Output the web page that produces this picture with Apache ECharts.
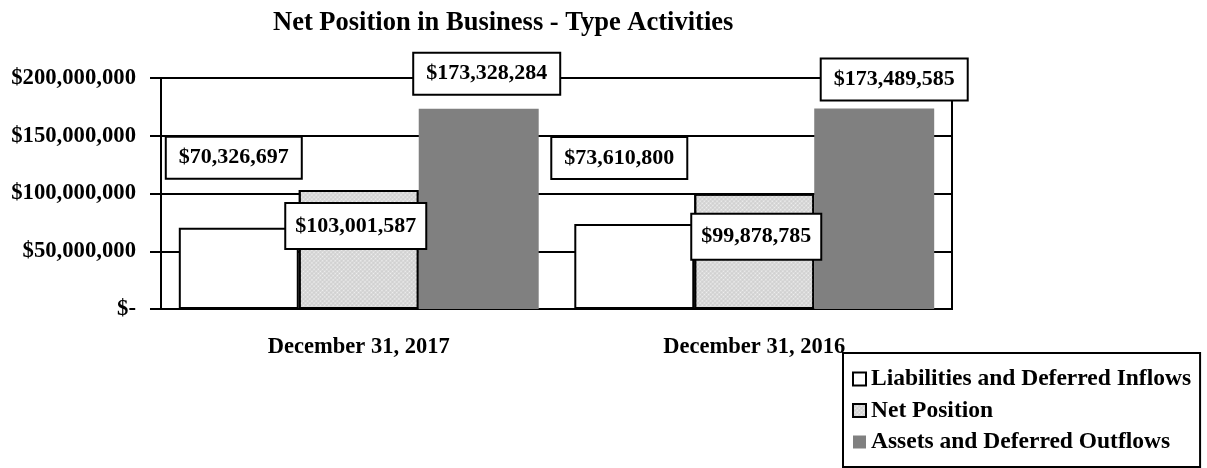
<!DOCTYPE html>
<html>
<head>
<meta charset="utf-8">
<script src="https://cdn.jsdelivr.net/npm/echarts@6/dist/echarts.min.js"></script>
<style>
  html, body { margin: 0; padding: 0; background: #fff; }
  #chart { width: 1207px; height: 468px; }
</style>
</head>
<body>
<div id="chart"></div>
<script>
const categories = ['December 31, 2017', 'December 31, 2016'];
const seriesNames = ['Liabilities and Deferred Inflows', 'Net Position', 'Assets and Deferred Outflows'];
const liabilities = [70326697, 73610800];
const netPosition = [103001587, 99878785];
const assets = [173328284, 173489585];

// label box nudges, per series per category (px)
const labelOffsets = [
  [[-5, -50], [-15, -46]],
  [[-3, 58], [2, 65]],
  [[8, -15], [20, -9]],
];

const FONT = 'Liberation Serif, Times New Roman, serif';
const chart = echarts.init(document.getElementById('chart'));

const money = (v) => '$' + v.toLocaleString('en-US');

function points(values, s) {
  return values.map((v, i) => ({
    value: v,
    label: { offset: labelOffsets[s][i] },
  }));
}

const boxLabel = {
  show: true,
  position: 'top',
  distance: 0,
  formatter: (p) => money(p.value),
  color: '#000',
  fontFamily: FONT,
  fontWeight: 'bold',
  fontSize: 22,
  lineHeight: 24,
  backgroundColor: '#fff',
  borderColor: '#000',
  borderWidth: 2,
  padding: [8, 12],
};

chart.setOption({
  animation: false,
  title: {
    text: 'Net Position in Business - Type Activities',
    left: 268,
    top: 5,
    textStyle: { fontFamily: FONT, fontWeight: 'bold', fontSize: 26.5, color: '#000' },
  },
  legend: {
    orient: 'vertical',
    left: 843,
    top: 353,
    height: 130,
    padding: [14, 9, 13, 9],
    itemGap: 7.5,
    itemWidth: 13,
    itemHeight: 13,
    icon: 'rect',
    borderColor: '#000',
    borderWidth: 2,
    textStyle: { fontFamily: FONT, fontWeight: 'bold', fontSize: 23.5, color: '#000' },
    data: seriesNames,
  },
  grid: {
    left: 161, right: 255, top: 78, bottom: 159,
    show: true, borderColor: '#000', borderWidth: 2,
  },
  xAxis: {
    type: 'category',
    data: categories,
    axisLine: { lineStyle: { color: '#000', width: 2 } },
    axisTick: { length: 8, lineStyle: { color: '#000', width: 2 } },
    axisLabel: { margin: 27, color: '#000', fontFamily: FONT, fontWeight: 'bold', fontSize: 22.5 },
  },
  yAxis: {
    type: 'value',
    min: 0,
    max: 200000000,
    interval: 50000000,
    axisLine: { show: true, lineStyle: { color: '#000', width: 2 } },
    axisTick: { show: true, length: 11, lineStyle: { color: '#000', width: 2 } },
    splitLine: { lineStyle: { color: '#000', width: 2 } },
    axisLabel: {
      margin: 25, color: '#000', fontFamily: FONT, fontWeight: 'bold', fontSize: 22.7,
      formatter: (v) => (v === 0 ? '$-' : money(v)),
    },
  },
  series: [
    {
      name: seriesNames[0],
      type: 'bar',
      barGap: '0%',
      barCategoryGap: '9%',
      data: points(liabilities, 0),
      itemStyle: { color: '#fff', borderColor: '#000', borderWidth: 2 },
      label: boxLabel,
    },
    {
      name: seriesNames[1],
      type: 'bar',
      data: points(netPosition, 1),
      itemStyle: {
        color: '#cfcfcf',
        borderColor: '#000',
        borderWidth: 2,
        decal: {
          symbol: 'circle',
          symbolSize: 0.6,
          color: 'rgba(255,255,255,0.7)',
          dashArrayX: [3, 0],
          dashArrayY: [3, 0],
          rotation: 0.785,
        },
      },
      label: Object.assign({}, boxLabel, { padding: [10, 9] }),
    },
    {
      name: seriesNames[2],
      type: 'bar',
      data: points(assets, 2),
      itemStyle: { color: '#808080' },
      label: boxLabel,
    },
  ],
});
</script>
</body>
</html>
